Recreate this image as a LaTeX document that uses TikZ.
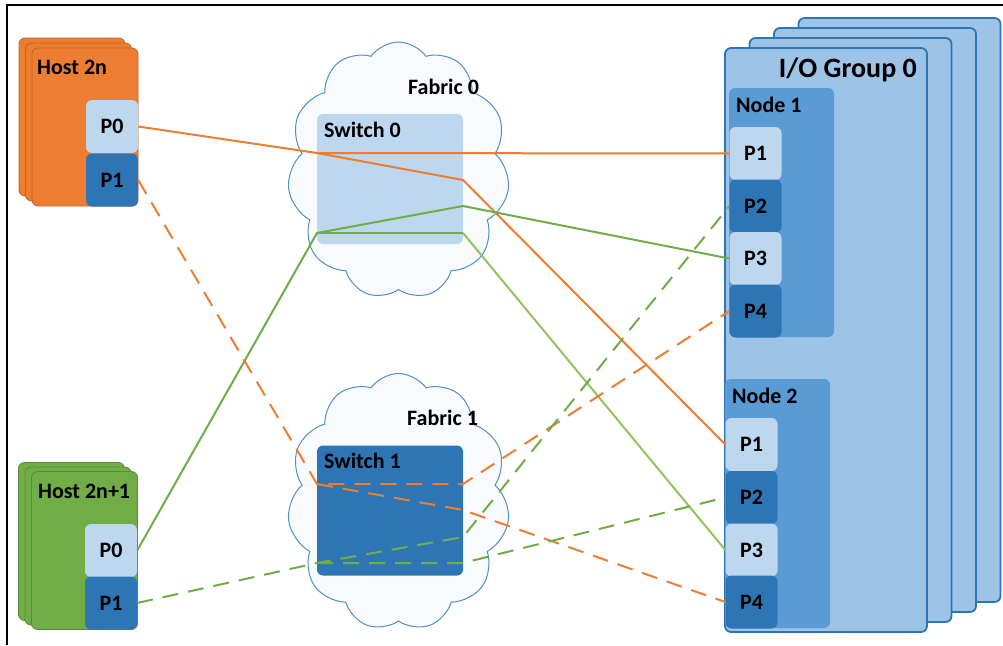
\documentclass[tikz,border=0pt]{standalone}
\usepackage{fontspec}
\setmainfont{Carlito}
\usetikzlibrary{shapes.symbols,positioning}
\definecolor{hostorange}{HTML}{ED7D31}
\definecolor{hostgreen}{HTML}{70AD47}
\definecolor{lightgreen}{HTML}{93C35F}
\definecolor{portlight}{HTML}{BDD7EE}
\definecolor{portdark}{HTML}{2E75B6}
\definecolor{groupblue}{HTML}{9DC3E6}
\definecolor{nodeblue}{HTML}{5B9BD5}
\definecolor{cloudline}{HTML}{4F8FCC}
\definecolor{cloudfill}{HTML}{F8FAFD}

\begin{document}
\begin{tikzpicture}[x=1pt,y=-1pt,font=\fontsize{22}{26}\selectfont\bfseries,
  blk/.style 2 args={rectangle,rounded corners=6pt,inner sep=0,minimum width=#1,minimum height=#2},
  host/.style={blk={106pt}{158pt},fill=#1,draw=#1!80!black,line width=0.8pt},
  port/.style={blk={52pt}{53pt},fill=#1},
  group/.style={blk={202pt}{584pt},fill=groupblue,draw=portdark,line width=1.8pt},
  cpu/.style={blk={105pt}{249pt},fill=nodeblue},
  switch/.style={blk={146pt}{130pt},fill=#1},
  fabric/.style={cloud,cloud puffs=11,cloud puff arc=110,aspect=0.87,draw=cloudline,fill=cloudfill,
    line width=1pt,minimum width=222pt,minimum height=257pt,inner sep=0},
  lbl/.style={anchor=base west,inner sep=0},
  wire/.style={line width=2pt,draw=#1},
  dashwire/.style={wire=#1,dash pattern=on 16pt off 10pt}]
\useasboundingbox (0,0) rectangle (1003,645);
\draw[line width=1.4pt] (7,645) -- (7,5) -- (1003,5);

\node[host=hostorange] (h0c) at (72,117) {};
\node[host=hostorange] (h0b) at (78.5,122) {};
\node[host=hostorange] (h0) at (85,127) {};
\node[lbl] (h0l) at (37,74) {Host 2n};
\node[port=portlight] (h0p0) at (112,126.5) {P0};
\node[port=portdark] (h0p1) at (112,180) {P1};

\node[host=hostgreen] (h1c) at (71.5,541.5) {};
\node[host=hostgreen] (h1b) at (78,546) {};
\node[host=hostgreen] (h1) at (84.5,550.5) {};
\node[lbl] (h1l) at (38,498) {Host 2n+1};
\node[port=portlight] (h1p0) at (111,550.5) {P0};
\node[port=portdark] (h1p1) at (111,603) {P1};

\node[fabric] (f0) at (398.5,170.5) {};
\node[lbl] (f0l) at (408,94) {Fabric 0};
\node[switch=portlight] (sw0) at (390,179) {};
\node[lbl] (sw0l) at (324,137) {Switch 0};

\node[fabric] (f1) at (398.5,502) {};
\node[lbl] (f1l) at (407,425) {Fabric 1};
\node[switch=portdark] (sw1) at (390,510.5) {};
\node[lbl] (sw1l) at (324,468) {Switch 1};

\node[group] (iog3) at (899.5,310) {};
\node[group] (iog2) at (875,320) {};
\node[group] (iog1) at (850.5,330) {};
\node[group] (iog) at (826,340) {};
\node[lbl,anchor=base east,font=\fontsize{28}{32}\selectfont\bfseries] (iogl) at (917,77) {I/O Group 0};

\node[cpu] (n1) at (781.5,212.5) {};
\node[lbl] (n1l) at (736,112) {Node 1};
\node[port=portlight] (n1p1) at (755.5,153.5) {P1};
\node[port=portdark] (n1p2) at (755.5,206) {P2};
\node[port=portlight] (n1p3) at (755.5,258.5) {P3};
\node[port=portdark] (n1p4) at (755.5,311) {P4};

\node[cpu] (n2) at (777.5,503.5) {};
\node[lbl] (n2l) at (732,403) {Node 2};
\node[port=portlight] (n2p1) at (751.5,444.5) {P1};
\node[port=portdark] (n2p2) at (751.5,497.5) {P2};
\node[port=portlight] (n2p3) at (751.5,550) {P3};
\node[port=portdark] (n2p4) at (751.5,602) {P4};

\coordinate (s0a) at (317,153);
\coordinate (s0b) at (463,180);
\coordinate (s0c) at (317,233);
\coordinate (s0d) at (463,206);
\coordinate (s0e) at (463,233);
\coordinate (s1a) at (317,484);
\coordinate (s1b) at (463,484);
\coordinate (s1c) at (463,510);
\coordinate (s1d) at (317,563);
\coordinate (s1e) at (463,537);
\coordinate (s1f) at (463,563);

\draw[wire=hostorange] (h0p0.east) -- (s0a) -- (n1p1.west);
\draw[wire=hostorange] (s0a) -- (s0b) -- (n2p1.west);
\draw[wire=hostgreen] (h1p0.east) -- (s0c) -- (s0d) -- (n1p3.west);
\draw[wire=hostgreen] (s0c) -- (s0e);
\draw[wire=lightgreen] (s0e) -- (n2p3.west);
\draw[dashwire=hostorange] (h0p1.east) -- (s1a) -- (s1b) -- (n1p4.west);
\draw[dashwire=hostorange] (s1a) -- (s1c) -- (n2p4.west);
\draw[dashwire=hostgreen] (h1p1.east) -- (s1d) -- (s1e) -- (n1p2.west);
\draw[dashwire=hostgreen] (s1d) -- (s1f) -- (n2p2.west);
\end{tikzpicture}
\end{document}
